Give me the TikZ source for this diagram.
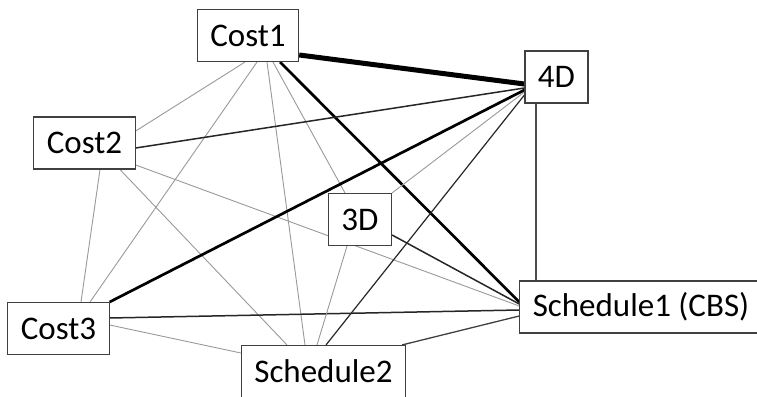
\documentclass[tikz,border=0pt]{standalone}
\usepackage{fontspec}
\setmainfont{Carlito}
\usetikzlibrary{backgrounds}

\begin{document}
\begin{tikzpicture}[x=1pt, y=1pt,
		box/.style={draw=black!75, line width=1.1pt, fill=white, minimum height=52pt, inner xsep=13pt, font=\fontsize{33}{39}\selectfont},
		greyedge/.style={line width=0.9pt, color=black!40},
		darkedge/.style={line width=1.5pt, color=black!85},
		boldedge/.style={line width=2.7pt, color=black},
		heavyedge/.style={line width=5pt, color=black}]
			%%%%% START %%%%%
			
			\useasboundingbox (0, 0) rectangle (757, 396);
			
			\node[box] (c1) at (248, 360.5) {Cost1};
			\node[box] (c2) at (84.5, 253) {Cost2};
			\node[box] (c3) at (58.5, 67.5) {Cost3};
			\node[box] (d3) at (360, 176.5) {3D};
			\node[box] (d4) at (556.5, 319) {4D};
			\node[box] (s1) at (641, 89) {Schedule1 (CBS)};
			\node[box] (s2) at (323.5, 24.5) {Schedule2};
			
			\begin{pgfonlayer}{background}
			\draw[heavyedge] ([yshift=-19.5]c1.east) -- ([yshift=-7]d4.west);
			\draw[boldedge] ([xshift=32]c1.south) -- ([yshift=5]s1.west);
			\draw[greyedge] ([xshift=-3]c1.south) -- ([yshift=12]c2.east);
			\draw[greyedge] ([xshift=9]c1.south) -- ([xshift=31.5]c3.north);
			\draw[greyedge] ([xshift=19]c1.south) -- ([xshift=-18.5]s2.north);
			\draw[greyedge] ([xshift=25]c1.south) -- ([xshift=-15]d3.north);
			
			\draw[darkedge] ([yshift=-5]c2.east) -- ([yshift=-11]d4.west);
			\draw[greyedge] ([yshift=-22]c2.east) -- ([yshift=1]s1.west);
			\draw[greyedge] ([xshift=15.5]c2.south) -- ([xshift=22.5]c3.north);
			\draw[greyedge] ([xshift=35.5]c2.south) -- ([xshift=-36.5]s2.north);
			
			\draw[boldedge] (c3.north east) -- ([yshift=-13]d4.west);
			\draw[darkedge] ([yshift=10.5]c3.east) -- ([yshift=-3]s1.west);
			\draw[greyedge] ([yshift=3.5]c3.east) -- ([yshift=18.5]s2.west);
			
			\draw[greyedge] (d3.north east) -- ([yshift=-15]d4.west);
			\draw[darkedge] ([yshift=-15.5]d3.east) -- ([yshift=3]s1.west);
			\draw[greyedge] ([xshift=-13]d3.south) -- ([xshift=-6.5]s2.north);
			
			\draw[darkedge, line width=1.2pt] ([xshift=2.5]s2.north) -- ([yshift=-18]d4.west);
			\draw[darkedge, line width=1.3pt, color=black!75] ([xshift=78.5]s2.north) -- ([yshift=-9]s1.west);
			\draw[darkedge, line width=1.3pt, color=black!70] ([xshift=-20.5]d4.south) -- ([xshift=-20.5]d4.south |- s1.north);
			\end{pgfonlayer}
			
			%%%%% END %%%%%
\end{tikzpicture}
\end{document}
